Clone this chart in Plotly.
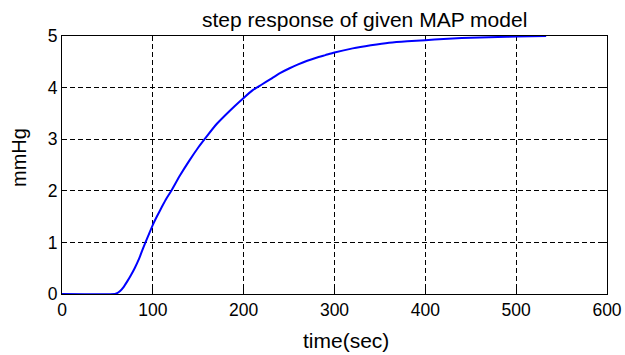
import plotly.graph_objects as go

# data
time_sec = [0, 58, 60, 64, 68, 72, 76, 80, 85, 90, 95, 100, 105, 110, 115, 120,
            130, 140, 150, 160, 170, 180, 190, 200, 210, 220, 230, 240, 250, 260,
            270, 280, 290, 300, 320, 340, 360, 380, 400, 420, 440, 460, 480, 500, 533]
mmhg = [0, 0, 0.01, 0.06, 0.14, 0.25, 0.37, 0.5, 0.69, 0.92, 1.13, 1.34, 1.52, 1.69, 1.85, 1.99,
        2.3, 2.58, 2.84, 3.07, 3.29, 3.47, 3.64, 3.80, 3.95, 4.06, 4.17, 4.28, 4.37, 4.45,
        4.52, 4.58, 4.63, 4.68, 4.76, 4.82, 4.87, 4.90, 4.92, 4.94, 4.96, 4.97, 4.98, 4.99, 5.0]
x_ticks = [0, 100, 200, 300, 400, 500, 600]
y_ticks = [0, 1, 2, 3, 4, 5]

FONT = "Liberation Sans, Arial, sans-serif"

fig = go.Figure()
fig.add_trace(go.Scatter(x=time_sec, y=mmhg, mode="lines",
                         line=dict(color="#0000ff", width=2, shape="spline", smoothing=0.5),
                         showlegend=False))

axis_common = dict(
    showline=True, linecolor="black", linewidth=1, mirror="ticks",
    ticks="inside", ticklen=5, tickcolor="black", tickwidth=1,
    showgrid=True, gridcolor="black", gridwidth=1, griddash="5px,3px",
    zeroline=False, layer="below traces", automargin=False,
    tickfont=dict(family=FONT, size=17.5, color="black"),
)

fig.update_xaxes(range=[0, 600], tickvals=x_ticks, **axis_common)
fig.update_yaxes(range=[0, 5], tickvals=y_ticks, **axis_common)

W, H = 625, 355
PL, PR, PT, PB = 62, 607, 36, 294  # plot area in page pixels
L, T = PL, PT
R = W - PR
B = H - PB
pw, ph = PR - PL, PB - PT

def px(xp):
    return (xp - PL) / pw

def py(yp):
    return (PB - yp) / ph

fig.update_layout(
    width=W, height=H,
    margin=dict(l=L, r=R, t=T, b=B),
    paper_bgcolor="white", plot_bgcolor="white",
    font=dict(family=FONT, color="black"),
    annotations=[
        dict(text="step response of given MAP model", xref="paper", yref="paper",
             x=px(364), y=py(20), xanchor="center", yanchor="middle", showarrow=False,
             font=dict(family=FONT, size=21, color="black")),
        dict(text="time(sec)", xref="paper", yref="paper",
             x=px(346), y=py(340), xanchor="center", yanchor="middle", showarrow=False,
             font=dict(family=FONT, size=21, color="black")),
        dict(text="mmHg", xref="paper", yref="paper", textangle=-90,
             x=px(18.5), y=py(157.5), xanchor="center", yanchor="middle", showarrow=False,
             font=dict(family=FONT, size=20, color="black")),
    ],
)

fig.write_html(
    "out.html",
    config={"displayModeBar": False},
    post_script="document.body.style.margin='0';document.body.style.overflow='hidden';",
)
